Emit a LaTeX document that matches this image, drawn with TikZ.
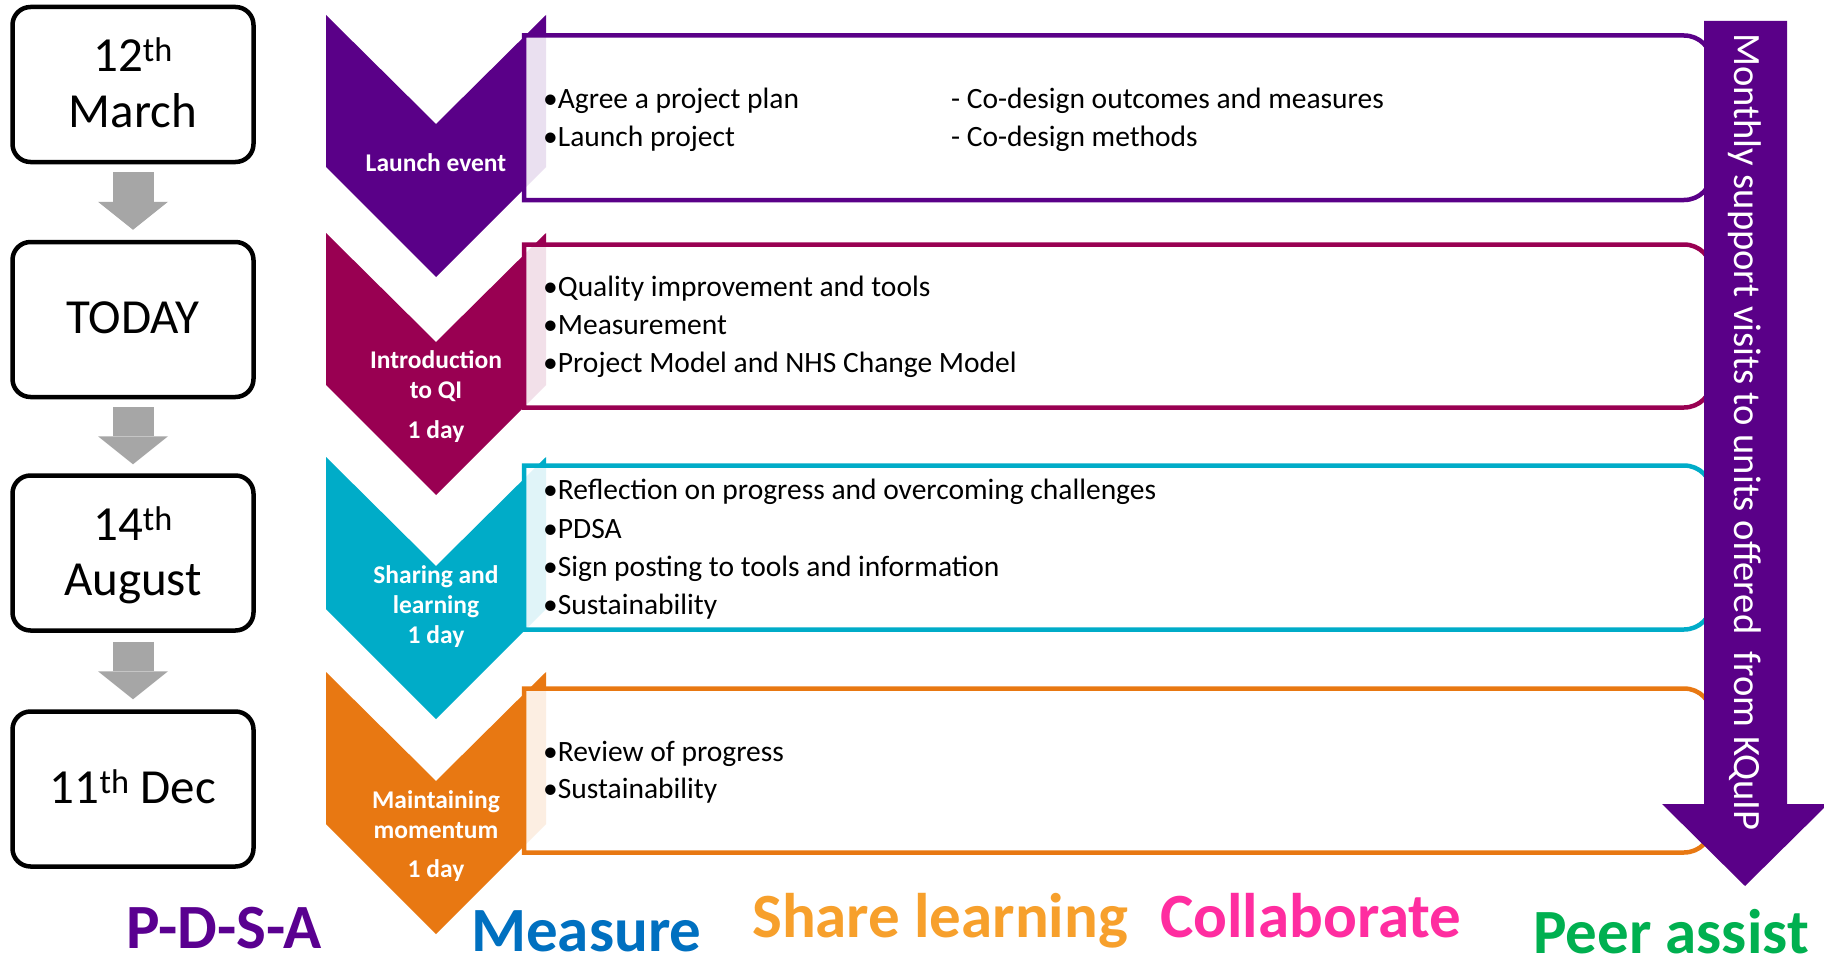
\documentclass[tikz,border=0pt]{standalone}
\usepackage{fontspec}
\setmainfont{Carlito}
\usetikzlibrary{arrows.meta}
\definecolor{cpurple}{HTML}{5A0088}
\definecolor{cmaroon}{HTML}{990052}
\definecolor{cteal}{HTML}{00ACC8}
\definecolor{corange}{HTML}{E87812}
\definecolor{arrowgray}{HTML}{A6A6A6}
\definecolor{lblpurple}{HTML}{5A0090}
\definecolor{lblblue}{HTML}{0070C0}
\definecolor{lblorange}{HTML}{F7A02C}
\definecolor{lblpink}{HTML}{FF2DA0}
\definecolor{lblgreen}{HTML}{00B050}
\newcommand{\chevshape}[2]{%
  \fill[#2] (326,#1) -- (436,#1+109) -- (546,#1) -- (546,#1+152) -- (436,#1+262) -- (326,#1+152) -- cycle;}
\newcommand{\textpanel}[3]{%
  \draw[draw=#3, line width=4.5pt, fill=white, fill opacity=0.88]
    (524,#1) -- (1684,#1) to[out=0,in=90] (1712,#1+28) -- (1712,#2-28)
    to[out=-90,in=0] (1684,#2) -- (524,#2) -- cycle;}
\begin{document}
\begin{tikzpicture}[x=1pt,y=-1pt,
  datebox/.style={draw=black, line width=4.5pt, rounded corners=18pt, minimum width=241pt, minimum height=155pt, inner sep=0pt},
  datetext/.style={font=\fontsize{49}{58}\selectfont, inner sep=0pt, anchor=base},
  grayarrow/.style={draw=arrowgray, line width=41pt, -{Triangle[length=28pt,width=70pt,line width=0pt]}},
  chevlabel/.style={text=white, font=\bfseries\fontsize{25.5}{30}\selectfont, inner sep=0pt, anchor=base},
  boxtext/.style={font=\fontsize{29.5}{36}\selectfont, inner sep=0pt, anchor=base west},
  biglabel/.style={font=\bfseries\fontsize{63}{72}\selectfont, inner sep=0pt, anchor=base west}]
\useasboundingbox (0,0) rectangle (1824,958);
\fill[white] (0,0) rectangle (1824,958);

% date boxes
\node[datebox] (d1) at (133,84.5) {};
\node[datebox] (d2) at (133,319.5) {};
\node[datebox] (d3) at (133,553) {};
\node[datebox] (d4) at (133,789) {};
\node[datetext] (t1a) at (133,71) {12\textsuperscript{th}};
\node[datetext] (t1b) at (133,127) {March};
\node[datetext] (t2) at (133,333) {TODAY};
\node[datetext] (t3a) at (133,540) {14\textsuperscript{th}};
\node[datetext] (t3b) at (133,595) {August};
\node[datetext] (t4) at (133,803) {11\textsuperscript{th} Dec};
\draw[grayarrow] ([yshift=-8pt]d1.south) -- ([yshift=10pt]d2.north);
\draw[grayarrow] ([yshift=-8pt]d2.south) -- ([yshift=9pt]d3.north);
\draw[grayarrow] ([yshift=-9pt]d3.south) -- ([yshift=10pt]d4.north);

% chevrons
\chevshape{15}{cpurple}
\chevshape{233}{cmaroon}
\chevshape{457}{cteal}
\chevshape{672}{corange}

% text panels
\textpanel{35.5}{200}{cpurple}
\textpanel{244.5}{407.5}{cmaroon}
\textpanel{465.5}{629.5}{cteal}
\textpanel{688.5}{852.5}{corange}

% chevron labels
\node[chevlabel] (c1) at (436,171) {Launch event};
\node[chevlabel] (c2a) at (436,368) {Introduction};
\node[chevlabel] (c2b) at (436,398) {to QI};
\node[chevlabel] (c2c) at (436,438) {1 day};
\node[chevlabel] (c3a) at (436,583) {Sharing and};
\node[chevlabel] (c3b) at (436,613) {learning};
\node[chevlabel] (c3c) at (436,643) {1 day};
\node[chevlabel] (c4a) at (436,808) {Maintaining};
\node[chevlabel] (c4b) at (436,838) {momentum};
\node[chevlabel] (c4c) at (436,877) {1 day};

% panel texts
\node[boxtext] (p1a) at (543,108) {•Agree a project plan};
\node[boxtext] (p1b) at (543,146) {•Launch project};
\node[boxtext] (p1c) at (951,108) {- Co-design outcomes and measures};
\node[boxtext] (p1d) at (951,146) {- Co-design methods};
\node[boxtext] (p2a) at (543,296) {•Quality improvement and tools};
\node[boxtext] (p2b) at (543,334) {•Measurement};
\node[boxtext] (p2c) at (543,372) {•Project Model and NHS Change Model};
\node[boxtext] (p3a) at (543,499) {•Reflection on progress and overcoming challenges};
\node[boxtext] (p3b) at (543,538) {•PDSA};
\node[boxtext] (p3c) at (543,576) {•Sign posting to tools and information};
\node[boxtext] (p3d) at (543,614) {•Sustainability};
\node[boxtext] (p4a) at (543,761) {•Review of progress};
\node[boxtext] (p4b) at (543,798) {•Sustainability};

% right arrow
\fill[cpurple] (1704,21) -- (1787,21) -- (1787,804) -- (1828,804) -- (1745,886) -- (1662,804) -- (1704,804) -- cycle;
\node[rotate=-90, anchor=west, text=white, font=\fontsize{38.6}{44}\selectfont, inner sep=0pt] (monthly) at (1745,33) {Monthly support visits to units offered\ \ from KQuIP};

% bottom labels
\node[biglabel, text=lblpurple] (l1) at (126,948) {P-D-S-A};
\node[biglabel, text=lblblue] (l2) at (471,951) {Measure};
\node[biglabel, text=lblorange] (l3) at (752,937) {Share learning};
\node[biglabel, text=lblpink] (l4) at (1160,937) {Collaborate};
\node[biglabel, text=lblgreen] (l5) at (1533,953) {Peer assist};
\end{tikzpicture}
\end{document}
